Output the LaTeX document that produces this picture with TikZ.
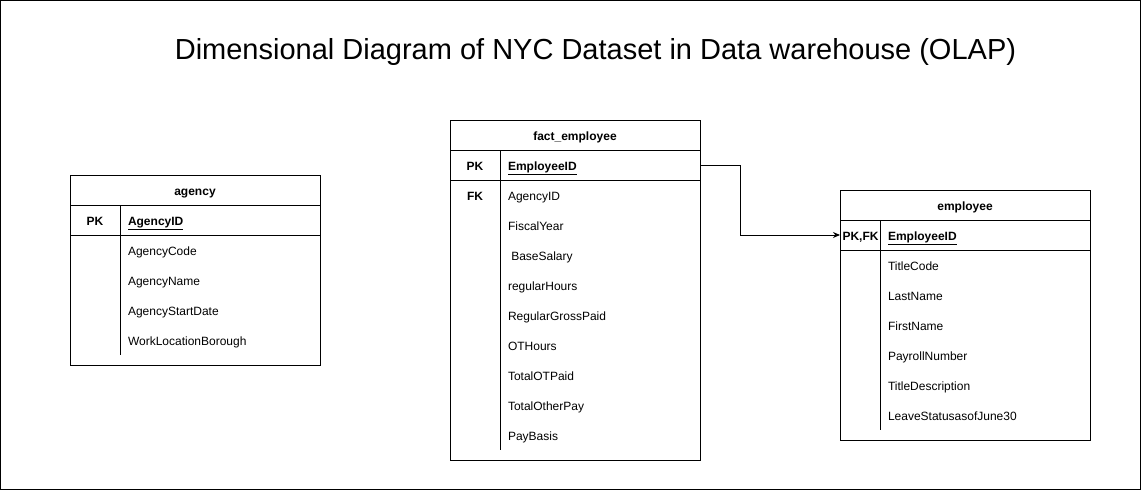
\documentclass[tikz,border=0pt]{standalone}
\usepackage{fontspec}
\setmainfont{Liberation Sans}
\usetikzlibrary{positioning,arrows.meta}
\tikzstyle{tbl} = [
	rectangle,
	minimum width = 250pt,
	inner sep = 0pt, outer sep = 0pt,
	draw
	]
\tikzstyle{hdr} = [
	rectangle,
	minimum width = 250pt, minimum height = 30pt,
	text height = 14pt, text depth = 3pt,
	inner sep = 0pt, outer sep = 0pt,
	font = \fontsize{12}{14}\selectfont\bfseries,
	draw
	]
\tikzstyle{keyrow} = [
	rectangle,
	minimum width = 250pt, minimum height = 30pt,
	inner sep = 0pt, outer sep = 0pt,
	draw
	]
\tikzstyle{key} = [
	text height = 14pt, text depth = 3pt,
	inner sep = 0pt,
	font = \fontsize{12}{14}\selectfont\bfseries
	]
\tikzstyle{fld} = [
	text width = 180pt, align = left,
	minimum height = 30pt, text height = 14pt, text depth = 3pt,
	inner sep = 0pt, outer sep = 0pt,
	font = \fontsize{12}{14}\selectfont
	]
\tikzstyle{rel} = [
	-{Stealth[length=7pt,width=6pt]},
	draw
	]

\begin{document}
\begin{tikzpicture}[x=1pt, y=-1pt, line width=1pt]
		\useasboundingbox (0,0) rectangle (1141,491);
		\draw (0.5,0.5) rectangle (1140,489);
		\node[anchor=base, font=\fontsize{29}{33}\selectfont] (title) at (595.5,59) {Dimensional Diagram of NYC Dataset in Data warehouse (OLAP)};
		% agency
		\node[tbl, minimum height=190pt] (agency) at (195,270) {};
		\node[hdr, below=0pt of agency.north] (agencyhd) {agency};
		\node[keyrow, below=0pt of agencyhd] (agencypk) {};
		\node[key] (agencykey) at (95,220) {PK};
		\node[fld] (agencyid) at (218,220) {\textbf{\underline{AgencyID}}};
		\node[fld, below=0pt of agencyid] (agencycode) {AgencyCode};
		\node[fld, below=0pt of agencycode] (agencyname) {AgencyName};
		\node[fld, below=0pt of agencyname] (agencystart) {AgencyStartDate};
		\node[fld, below=0pt of agencystart] (agencyboro) {WorkLocationBorough};
		\draw ([xshift=50pt]agencypk.north west) -- ([xshift=50pt]agencypk.north west |- agencyboro.south);
		% fact_employee
		\node[tbl, minimum height=340pt] (fact) at (575,290) {};
		\node[hdr, below=0pt of fact.north] (facthd) {fact\_employee};
		\node[keyrow, below=0pt of facthd] (factpk) {};
		\node[key] (factkey) at (475,165) {PK};
		\node[key] (factfk) at (475,195) {FK};
		\node[fld] (factempid) at (598,165) {\textbf{\underline{EmployeeID}}};
		\node[fld, below=0pt of factempid] (factagency) {AgencyID};
		\node[fld, below=0pt of factagency] (factyear) {FiscalYear};
		\node[fld, below=0pt of factyear] (factsalary) {\hspace{3.3pt}BaseSalary};
		\node[fld, below=0pt of factsalary] (facthours) {regularHours};
		\node[fld, below=0pt of facthours] (factgross) {RegularGrossPaid};
		\node[fld, below=0pt of factgross] (factot) {OTHours};
		\node[fld, below=0pt of factot] (factotpaid) {TotalOTPaid};
		\node[fld, below=0pt of factotpaid] (factother) {TotalOtherPay};
		\node[fld, below=0pt of factother] (factbasis) {PayBasis};
		\draw ([xshift=50pt]factpk.north west) -- ([xshift=50pt]factpk.north west |- factbasis.south);
		% employee
		\node[tbl, minimum height=250pt] (emp) at (965,315) {};
		\node[hdr, below=0pt of emp.north] (emphd) {employee};
		\node[keyrow, below=0pt of emphd] (emppk) {};
		\node[key] (empkey) at (860.5,235) {PK,FK};
		\node[fld] (empid) at (978,235) {\textbf{\underline{EmployeeID}}};
		\node[fld, below=0pt of empid] (emptitle) {TitleCode};
		\node[fld, below=0pt of emptitle] (emplast) {LastName};
		\node[fld, below=0pt of emplast] (empfirst) {FirstName};
		\node[fld, below=0pt of empfirst] (emppayroll) {PayrollNumber};
		\node[fld, below=0pt of emppayroll] (empdesc) {TitleDescription};
		\node[fld, below=0pt of empdesc] (empleave) {LeaveStatusasofJune30};
		\draw ([xshift=40pt]emppk.north west) -- ([xshift=40pt]emppk.north west |- empleave.south);
		\draw[rel] (factpk.east) -- ++(40,0) |- (emppk.west);
	\end{tikzpicture}
\end{document}
